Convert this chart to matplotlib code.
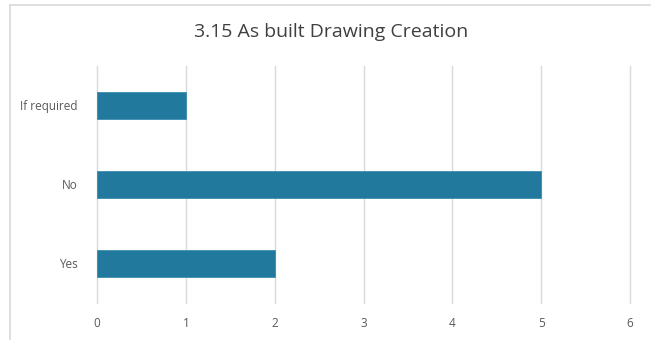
import matplotlib
matplotlib.use('Agg')
from matplotlib import pyplot as plt
from matplotlib.lines import Line2D

# data
categories = ['Yes', 'No', 'If required']
counts = [2, 5, 1]
x_ticks = [0, 1, 2, 3, 4, 5, 6]

bar_color = '#21799e'
text_color = '#595959'
grid_color = '#d9d9d9'

plt.rcParams['font.family'] = ['Open Sans', 'DejaVu Sans']

fig = plt.figure(figsize=(6.51, 3.40), dpi=100)
ax = fig.add_axes([0.149, 0.109, 0.819, 0.697])

ax.barh(categories, counts, height=0.35, color=bar_color, edgecolor='#3a8db0', linewidth=0.6, zorder=3)

ax.set_xlim(0, 6)
ax.set_ylim(-0.5, 2.5)
ax.set_xticks(x_ticks)
ax.xaxis.grid(True, color=grid_color, linewidth=1, zorder=0)
for gl in ax.get_xgridlines():
    gl.set_clip_on(False)
for s in ax.spines.values():
    s.set_visible(False)
ax.tick_params(axis='both', length=0, labelsize=8.5, labelcolor=text_color)
ax.tick_params(axis='x', pad=10)
ax.tick_params(axis='y', pad=14)

fig.text(0.508, 0.905, '3.15 As built Drawing Creation', ha='center', va='center',
         fontsize=14, color='#404040')

# outer chart border (top and left visible)
fig.add_artist(Line2D([0.0154, 1.0], [0.985, 0.985], color=grid_color, linewidth=1.2, transform=fig.transFigure))
fig.add_artist(Line2D([0.0154, 0.0154], [0.0, 0.985], color=grid_color, linewidth=1.2, transform=fig.transFigure))

plt.savefig('out.png', dpi=100)
